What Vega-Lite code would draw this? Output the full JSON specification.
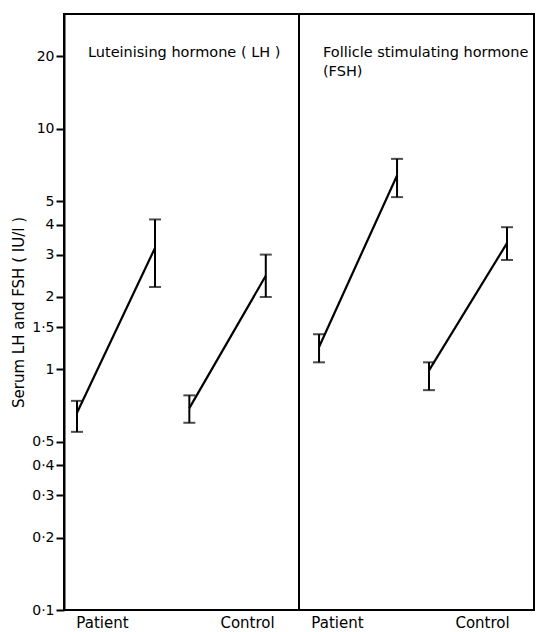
{
  "$schema": "https://vega.github.io/schema/vega-lite/v6.json",
  "padding": {"left": 11, "top": 13, "right": 0, "bottom": 0},
  "background": "white",
  "bounds": "flush",
  "data": {
    "values": [
      {"hormone": "LH", "group": "Patient", "phase": "basal", "slot": 0, "mean": 0.66, "lo": 0.55, "hi": 0.74},
      {"hormone": "LH", "group": "Patient", "phase": "stimulated", "slot": 1, "mean": 3.2, "lo": 2.2, "hi": 4.2},
      {"hormone": "LH", "group": "Control", "phase": "basal", "slot": 1.44, "mean": 0.69, "lo": 0.6, "hi": 0.78},
      {"hormone": "LH", "group": "Control", "phase": "stimulated", "slot": 2.42, "mean": 2.45, "lo": 2.0, "hi": 3.0},
      {"hormone": "FSH", "group": "Patient", "phase": "basal", "slot": 0.09, "mean": 1.24, "lo": 1.07, "hi": 1.4},
      {"hormone": "FSH", "group": "Patient", "phase": "stimulated", "slot": 1.09, "mean": 6.4, "lo": 5.2, "hi": 7.5},
      {"hormone": "FSH", "group": "Control", "phase": "basal", "slot": 1.5, "mean": 0.99, "lo": 0.82, "hi": 1.07},
      {"hormone": "FSH", "group": "Control", "phase": "stimulated", "slot": 2.5, "mean": 3.35, "lo": 2.85, "hi": 3.9},
      {"hormone": "LH", "title": ["Luteinising hormone ( LH )"]},
      {"hormone": "FSH", "title": ["Follicle stimulating hormone", "(FSH)"]}
    ]
  },
  "facet": {
    "column": {
      "field": "hormone",
      "type": "nominal",
      "sort": ["LH", "FSH"],
      "header": {"title": null, "labels": false}
    }
  },
  "spacing": 0,
  "spec": {
    "width": 235,
    "height": 596,
    "layer": [
      {
        "transform": [{"filter": "isValid(datum.mean)"}],
        "mark": {"type": "line", "color": "black", "strokeWidth": 2.2},
        "encoding": {
          "x": {
            "field": "slot",
            "type": "quantitative",
            "scale": {"domain": [-0.167, 2.846], "nice": false, "zero": false},
            "axis": {
              "title": null,
              "values": [0.32, 2.18],
              "labelExpr": "datum.value < 1 ? 'Patient' : 'Control'",
              "ticks": false,
              "domain": false,
              "grid": false,
              "labelFontSize": 15,
              "labelPadding": 5,
              "labelColor": "black",
              "labelFont": "DejaVu Sans"
            }
          },
          "y": {
            "field": "mean",
            "type": "quantitative",
            "title": "Serum LH and FSH ( IU/l )",
            "scale": {"type": "log", "domain": [0.1, 30], "nice": false},
            "axis": {
              "values": [0.1, 0.2, 0.3, 0.4, 0.5, 1, 1.5, 2, 3, 4, 5, 10, 20],
              "labelExpr": "replace(format(datum.value, '~g'), '.', '·')",
              "grid": false,
              "tickSize": 8,
              "tickWidth": 2,
              "tickColor": "black",
              "domain": true,
              "domainWidth": 2,
              "domainColor": "black",
              "labelFontSize": 14,
              "labelPadding": 2,
              "labelColor": "black",
              "labelFont": "DejaVu Sans",
              "titleFont": "DejaVu Sans",
              "titleFontSize": 15,
              "titleFontWeight": "normal",
              "titleColor": "black",
              "titlePadding": 5
            }
          },
          "detail": {"field": "group", "type": "nominal"}
        }
      },
      {
        "transform": [{"filter": "isValid(datum.mean)"}],
        "mark": {"type": "errorbar", "ticks": true, "size": 12, "thickness": 2, "color": "black"},
        "encoding": {
          "x": {"field": "slot", "type": "quantitative"},
          "y": {"field": "lo", "type": "quantitative", "title": "Serum LH and FSH ( IU/l )"},
          "y2": {"field": "hi"}
        }
      },
      {
        "transform": [{"filter": "isValid(datum.title)"}],
        "mark": {
          "type": "text",
          "align": "left",
          "baseline": "top",
          "fontSize": 14.5,
          "lineHeight": 19,
          "font": "DejaVu Sans",
          "color": "black"
        },
        "encoding": {
          "x": {"datum": 0.14},
          "y": {"datum": 22},
          "text": {"field": "title"}
        }
      }
    ]
  },
  "config": {
    "view": {"stroke": "black", "strokeWidth": 2}
  }
}
